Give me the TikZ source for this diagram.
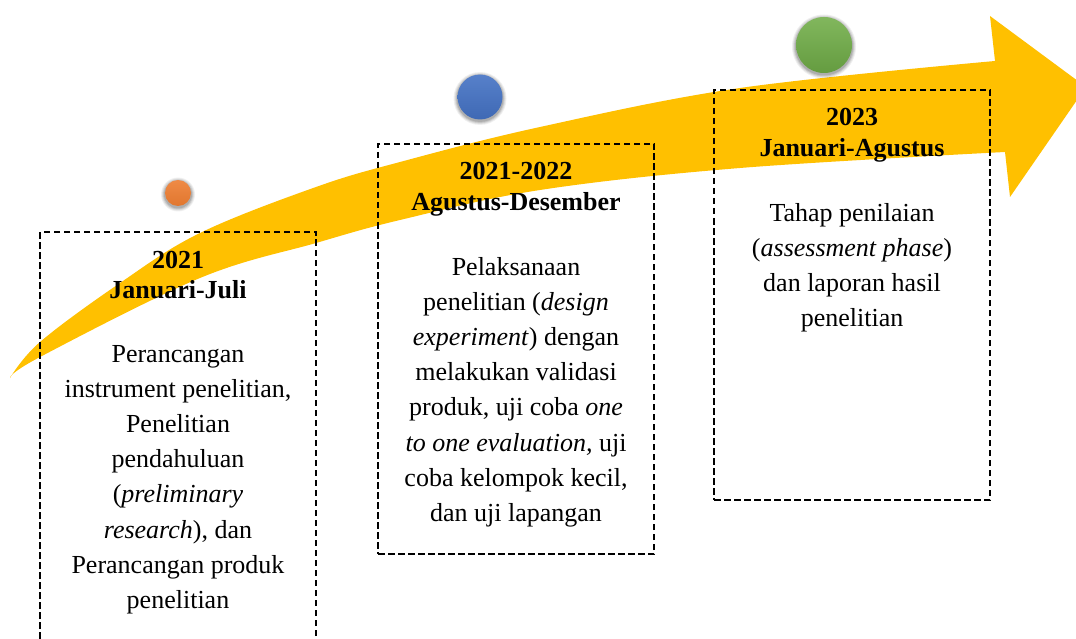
\documentclass[tikz,border=0pt]{standalone}
\usepackage{fontspec}
\setmainfont{Liberation Serif}
\begin{document}
\begin{tikzpicture}[x=1pt,y=-1pt,
  boxstyle/.style={draw=black,line width=2.4pt,dash pattern=on 6.5pt off 3.5pt,
    inner sep=0pt,minimum width=276pt,rectangle},
  titlestyle/.style={anchor=base,align=center,inner sep=0pt,
    font=\fontsize{26}{30.5}\selectfont\bfseries},
  bodystyle/.style={anchor=base,align=center,inner sep=0pt,
    font=\fontsize{26}{35.2}\selectfont},
  dotstyle/.style={circle,inner sep=0pt}]
\useasboundingbox (0,0) rectangle (1076,639);
\clip (0,0) rectangle (1076,639);
\definecolor{arrowyellow}{HTML}{FFC000}
\definecolor{dotorange}{HTML}{ED7D31}
\definecolor{dotblue}{HTML}{4472C4}
\definecolor{dotgreen}{HTML}{70AD47}
% curved arrow
\fill[arrowyellow] plot[smooth,tension=0.6] coordinates
  {(10,378) (40,342) (120,283) (200,233) (316,187) (400,162) (540,127) (740,88) (995,61)}
  -- (990,16) -- (1086,87) -- (1010,197) --
  plot[smooth,tension=0.6] coordinates
  {(1005,152) (740,168) (540,190) (400,220) (316,243) (200,278) (40,357) (10,378)}
  -- cycle;
% boxes
\node[boxstyle,minimum height=418pt] (b1) at (178,441) {};
\node[boxstyle,minimum height=410pt] (b2) at (516,349) {};
\node[boxstyle,minimum height=410pt] (b3) at (852,295) {};
% dots with soft shadow
\foreach \r/\o in {4/0.06,3/0.08,2/0.1,1/0.12}{
  \fill[black,opacity=\o] (178,194.5) circle (13+\r);
  \fill[black,opacity=\o] (480,98.5) circle (22.5+\r);
  \fill[black,opacity=\o] (824,46.5) circle (28+\r);
}
\node[dotstyle,minimum size=26pt,top color=dotorange!90!white,bottom color=dotorange!95!black] (c1) at (178,193) {};
\node[dotstyle,minimum size=45pt,top color=dotblue!90!white,bottom color=dotblue!92!black] (c2) at (480,97) {};
\node[dotstyle,minimum size=56pt,top color=dotgreen!88!white,bottom color=dotgreen!90!black] (c3) at (824,45) {};
% titles (anchor base = baseline of last line)
\node[titlestyle] (t1) at (178,298.5) {2021\\Januari-Juli};
\node[titlestyle] (t2) at (516,210.5) {2021-2022\\Agustus-Desember};
\node[titlestyle] (t3) at (852,156.5) {2023\\Januari-Agustus};
% bodies
\node[bodystyle] (d1) at (178,608.4) {Perancangan\\instrument penelitian,\\Penelitian\\pendahuluan\\(\textit{preliminary}\\\textit{research}), dan\\Perancangan produk\\penelitian};
\node[bodystyle] (d2) at (516,521.4) {Pelaksanaan\\penelitian (\textit{design}\\\textit{experiment}) dengan\\melakukan validasi\\produk, uji coba \textit{one}\\\textit{to one evaluation,} uji\\coba kelompok kecil,\\dan uji lapangan};
\node[bodystyle] (d3) at (852,326.6) {Tahap penilaian\\(\textit{assessment phase})\\dan laporan hasil\\penelitian};
\end{tikzpicture}
\end{document}
